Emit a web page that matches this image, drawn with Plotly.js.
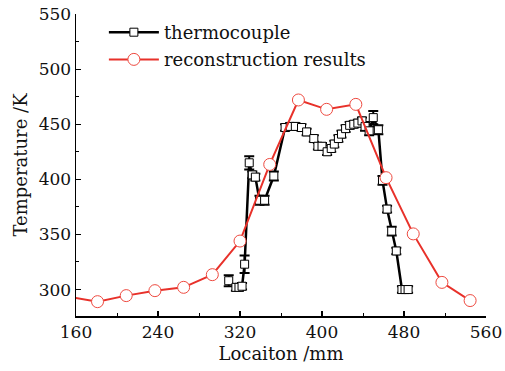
<!DOCTYPE html>
<html>
<head>
<meta charset="utf-8">
<script src="https://cdn.plot.ly/plotly-3.0.1.min.js"></script>
<style>html,body{margin:0;padding:0;background:#fff;}#chart{width:505px;height:371px;}</style>
</head>
<body>
<div id="chart"></div>
<script>
// Thermocouple measurements (Location mm, Temperature K, error K)
const tcLocation = [309, 316, 319, 322, 324.5, 329, 332, 335, 339, 344, 353, 364, 369, 374, 380, 385, 392, 396, 400, 405, 409, 412, 416, 419, 423, 427, 431, 435, 439, 442, 446, 450, 455, 459, 463.5, 468, 472.5, 478, 481, 484];
const tcTemp =     [308, 302, 302, 303, 323, 415, 404, 402, 381, 381, 403, 447, 448, 448, 447, 443, 437, 430, 430, 425, 428, 432, 437, 441, 446, 449, 450, 451, 453, 448, 444, 456, 445, 399, 373, 353, 335, 300, 300, 300];
const tcError =    [5, 3, 3, 3, 8, 6, 3, 3, 4, 4, 4, 3, 3, 3, 3, 3, 3, 3, 3, 3, 3, 3, 3, 3, 3, 3, 3, 3, 3, 4, 4, 6, 4, 4, 3, 4, 3, 3, 3, 3];

// Reconstruction results
const recLocation = [153, 181, 209, 237, 265, 293, 320, 349, 377, 404.5, 433, 462.5, 489, 517, 544.5];
const recTemp =     [293.5, 289, 294.5, 299, 302, 313.5, 344, 413.5, 472, 463.5, 468, 401.5, 350.5, 306.5, 290];

const tickVals = [160, 240, 320, 400, 480, 560];
const yTickVals = [300, 350, 400, 450, 500, 550];

const serif = 'DejaVu Serif, serif';

const traces = [
  {
    x: tcLocation, y: tcTemp, name: 'thermocouple', type: 'scatter', mode: 'lines+markers',
    legend: 'legend',
    line: {color: '#000000', width: 2.5},
    marker: {symbol: 'square', size: 8, color: '#ffffff', line: {color: '#000000', width: 1}},
    error_y: {type: 'data', array: tcError, visible: true, color: '#000000', thickness: 2, width: 5}
  },
  {
    x: recLocation, y: recTemp, name: 'reconstruction results', type: 'scatter', mode: 'lines+markers',
    legend: 'legend2',
    line: {color: '#e8312a', width: 2},
    marker: {symbol: 'circle', size: 12, color: '#ffffff', line: {color: '#ee4a40', width: 1}}
  }
];

const legFont = {family: serif, size: 18, color: '#111'};
const layout = {
  width: 505, height: 371,
  margin: {l: 76, r: 19, t: 14, b: 55},
  paper_bgcolor: '#ffffff', plot_bgcolor: '#ffffff',
  font: {family: serif, color: '#111111', size: 17},
  showlegend: true,
  legend: {x: 0.068, y: 1.0, xanchor: 'left', yanchor: 'top', bgcolor: 'rgba(0,0,0,0)', font: legFont, itemwidth: 50},
  legend2: {x: 0.068, y: 0.91, xanchor: 'left', yanchor: 'top', bgcolor: 'rgba(0,0,0,0)', font: legFont, itemwidth: 50},
  xaxis: {
    range: [160, 560], tickvals: tickVals, ticktext: tickVals.map(String),
    showline: true, linecolor: '#000', linewidth: 1.5, mirror: false,
    ticks: 'inside', ticklen: 5, tickwidth: 1.2, tickcolor: '#000',
    showgrid: false, zeroline: false,
    minor: {ticks: 'inside', ticklen: 3, tickwidth: 1, dtick: 40, tick0: 160, tickcolor: '#000', showgrid: false},
    tickfont: {family: serif, size: 17, color: '#111'},
    title: {text: 'Locaiton /mm', font: {family: serif, size: 18, color: '#111'}, standoff: 6}
  },
  yaxis: {
    range: [276, 550], tickvals: yTickVals, ticktext: yTickVals.map(String),
    showline: true, linecolor: '#000', linewidth: 1.5, mirror: false,
    ticks: 'inside', ticklen: 5, tickwidth: 1.2, tickcolor: '#000',
    showgrid: false, zeroline: false,
    minor: {ticks: 'inside', ticklen: 3, tickwidth: 1, dtick: 25, tick0: 275, tickcolor: '#000', showgrid: false},
    tickfont: {family: serif, size: 17, color: '#111'},
    title: {text: 'Temperature /K', font: {family: serif, size: 18, color: '#111'}, standoff: 6}
  }
};

Plotly.newPlot('chart', traces, layout, {displayModeBar: false, staticPlot: true});
</script>
</body>
</html>
